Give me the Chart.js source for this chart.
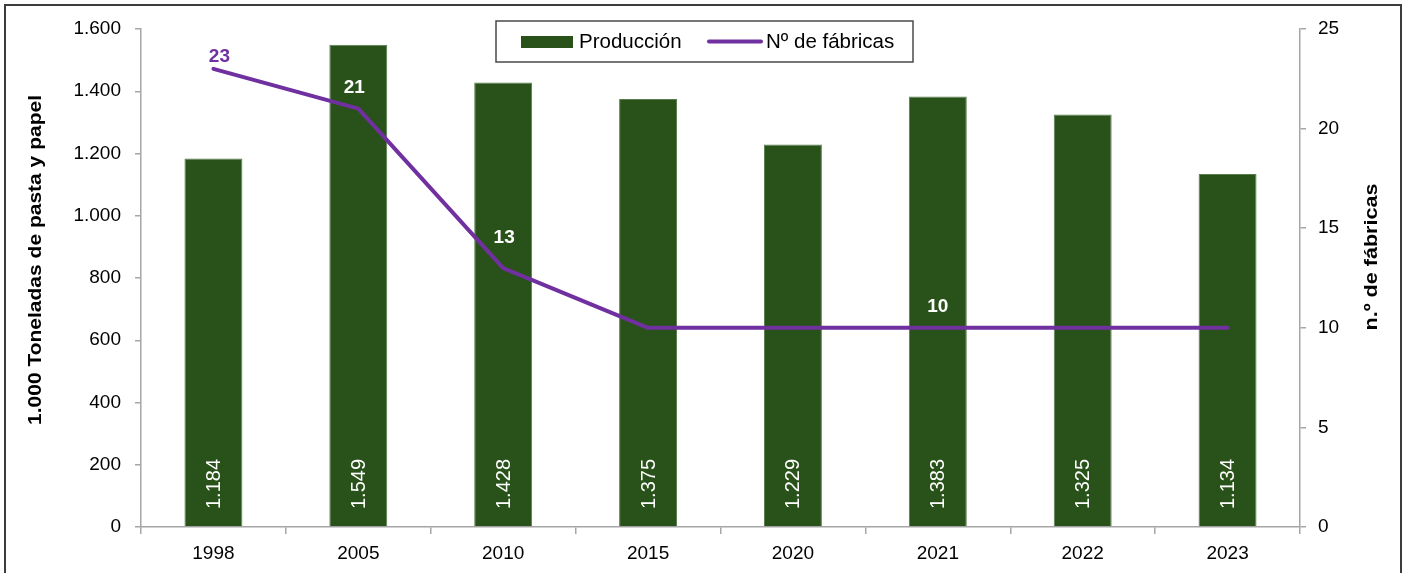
<!DOCTYPE html>
<html>
<head>
<meta charset="utf-8">
<script src="https://cdn.jsdelivr.net/npm/chart.js@4.4.1/dist/chart.umd.min.js"></script>
<style>
  html, body { margin: 0; padding: 0; background: #ffffff; }
  #wrap { width: 1407px; height: 573px; position: relative; }
</style>
</head>
<body>
<div id="wrap"><canvas id="chart" width="1407" height="573"></canvas></div>
<script>
// Years on the category axis
const years = ['1998', '2005', '2010', '2015', '2020', '2021', '2022', '2023'];
// Production of pulp and paper, thousand tonnes
const produccion = [1184, 1549, 1428, 1375, 1229, 1383, 1325, 1134];
// Number of mills in operation
const fabricas = [23, 21, 13, 10, 10, 10, 10, 10];
// Points of the mills line that carry a value label
const fabricasEtiquetadas = [0, 1, 2, 5];
// Axis ranges and tick steps
const yLeftRange = [0, 1600, 200];
const yRightRange = [0, 25, 5];

const GREEN = '#285219';
const PURPLE = '#7030A0';
const AXIS = '#a6a6a6';
const FONT = '"Liberation Sans", Arial, sans-serif';

function miles(n) {
  const s = String(Math.round(n));
  return s.replace(/\B(?=(\d{3})+(?!\d))/g, '.');
}

// Writes a rotated title stretched along its reading direction to a given length
function rotatedTitle(ctx, text, x, y, length) {
  const w = ctx.measureText(text).width;
  ctx.save();
  ctx.translate(x, y);
  ctx.rotate(-Math.PI / 2);
  ctx.scale(length / w, 1);
  ctx.fillText(text, 0, 0);
  ctx.restore();
}

// Border around the figure, legend box, axis titles and value labels
const decor = {
  id: 'decor',
  afterDatasetsDraw(chart) {
    const ctx = chart.ctx;
    const base = chart.scales.y.getPixelForValue(0);

    // Values written inside the bars, rotated
    const barMeta = chart.getDatasetMeta(1);
    ctx.save();
    ctx.fillStyle = '#ffffff';
    ctx.font = '20px ' + FONT;
    ctx.textAlign = 'center';
    ctx.textBaseline = 'middle';
    barMeta.data.forEach((bar, i) => {
      ctx.save();
      ctx.translate(bar.x, base - 43);
      ctx.rotate(-Math.PI / 2);
      ctx.fillText(miles(produccion[i]), 0, 1);
      ctx.restore();
    });
    ctx.restore();

    // Values above the mills line
    const lineMeta = chart.getDatasetMeta(0);
    const lift = { 0: 12, 1: 21, 2: 30, 5: 21 };
    const shiftX = { 0: 6, 1: -4, 2: 1, 5: 0 };
    ctx.save();
    ctx.font = 'bold 19px ' + FONT;
    ctx.textAlign = 'center';
    ctx.textBaseline = 'middle';
    fabricasEtiquetadas.forEach(i => {
      const p = lineMeta.data[i];
      ctx.fillStyle = i === 0 ? PURPLE : '#ffffff';
      ctx.fillText(String(fabricas[i]), p.x + shiftX[i], p.y - lift[i]);
    });
    ctx.restore();
  },
  afterDraw(chart) {
    const ctx = chart.ctx;
    ctx.save();

    // Figure frame (open at the bottom)
    ctx.strokeStyle = '#3c3c3c';
    ctx.lineWidth = 2;
    ctx.beginPath();
    ctx.moveTo(5, 580);
    ctx.lineTo(5, 5);
    ctx.lineTo(1401, 5);
    ctx.lineTo(1401, 580);
    ctx.stroke();

    // Axis titles
    ctx.fillStyle = '#000000';
    ctx.font = 'bold 19px ' + FONT;
    ctx.textAlign = 'center';
    ctx.textBaseline = 'middle';
    rotatedTitle(ctx, '1.000 Toneladas de pasta y papel', 36, 260, 330);
    rotatedTitle(ctx, 'n.º de fábricas', 1372, 257, 147);

    // Legend box
    ctx.fillStyle = '#ffffff';
    ctx.fillRect(496, 21, 417, 41);
    ctx.strokeStyle = '#4a4a4a';
    ctx.lineWidth = 1.5;
    ctx.strokeRect(496, 21, 417, 41);

    ctx.fillStyle = GREEN;
    ctx.fillRect(521, 36, 52, 12);
    ctx.fillStyle = '#000000';
    ctx.font = '20.5px ' + FONT;
    ctx.textAlign = 'left';
    ctx.textBaseline = 'middle';
    ctx.fillText(chart.data.datasets[1].label, 579, 42);

    ctx.strokeStyle = PURPLE;
    ctx.lineWidth = 4;
    ctx.lineCap = 'round';
    ctx.beginPath();
    ctx.moveTo(709, 41.5);
    ctx.lineTo(761, 41.5);
    ctx.stroke();
    ctx.fillText(chart.data.datasets[0].label, 766, 42);

    ctx.restore();
  }
};

new Chart(document.getElementById('chart'), {
  data: {
    labels: years,
    datasets: [
      {
        type: 'line',
        label: 'Nº de fábricas',
        data: fabricas,
        yAxisID: 'y1',
        borderColor: PURPLE,
        backgroundColor: PURPLE,
        borderWidth: 4,
        borderCapStyle: 'round',
        borderJoinStyle: 'round',
        pointRadius: 0,
        tension: 0,
        order: 0
      },
      {
        type: 'bar',
        label: 'Producción',
        data: produccion,
        yAxisID: 'y',
        backgroundColor: GREEN,
        borderColor: '#5a7d4c',
        borderWidth: { left: 1, right: 1, top: 1, bottom: 0 },
        barPercentage: 0.4,
        categoryPercentage: 1,
        order: 1
      }
    ]
  },
  options: {
    responsive: false,
    animation: false,
    devicePixelRatio: 1,
    layout: { padding: { top: 29, left: 0, right: 0, bottom: 0 } },
    plugins: {
      legend: { display: false },
      tooltip: { enabled: false }
    },
    scales: {
      x: {
        type: 'category',
        offset: true,
        grid: {
          offset: true,
          drawOnChartArea: false,
          drawTicks: true,
          tickLength: 7,
          color: AXIS,
          lineWidth: 1.5
        },
        border: { color: AXIS, width: 1.5 },
        ticks: {
          color: '#000000',
          font: { family: FONT, size: 19 },
          padding: 8,
          maxRotation: 0
        },
        afterFit(scale) { scale.height = 46; }
      },
      y: {
        position: 'left',
        min: yLeftRange[0],
        max: yLeftRange[1],
        grid: {
          drawOnChartArea: false,
          drawTicks: true,
          tickLength: 6,
          color: AXIS,
          lineWidth: 1.5
        },
        border: { color: AXIS, width: 1.5 },
        ticks: {
          stepSize: yLeftRange[2],
          color: '#000000',
          font: { family: FONT, size: 19 },
          padding: 14,
          callback: v => miles(v)
        },
        afterFit(scale) { scale.width = 141; }
      },
      y1: {
        position: 'right',
        min: yRightRange[0],
        max: yRightRange[1],
        grid: {
          drawOnChartArea: false,
          drawTicks: true,
          tickLength: 6,
          color: AXIS,
          lineWidth: 1.5
        },
        border: { color: AXIS, width: 1.5 },
        ticks: {
          stepSize: yRightRange[2],
          color: '#000000',
          font: { family: FONT, size: 19 },
          padding: 12
        },
        afterFit(scale) { scale.width = 107; }
      }
    }
  },
  plugins: [decor]
});
</script>
</body>
</html>
